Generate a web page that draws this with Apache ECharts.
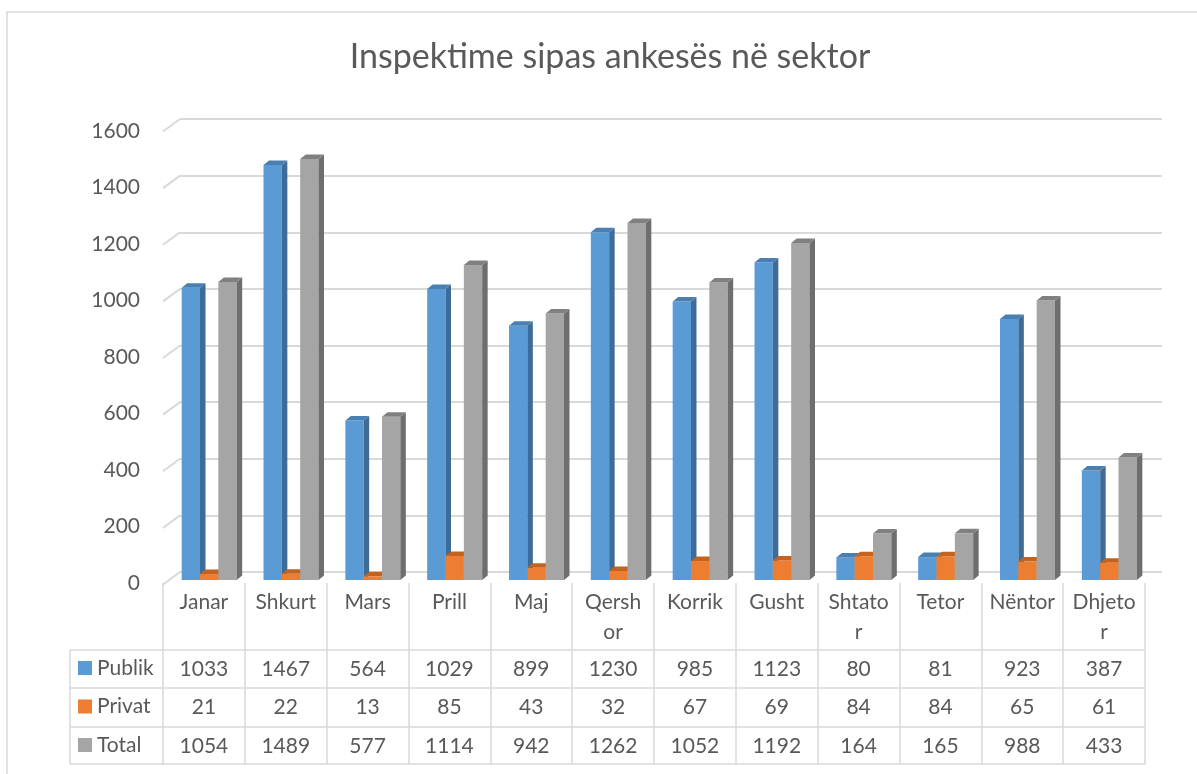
<!DOCTYPE html>
<html>
<head>
<meta charset="utf-8">
<script src="https://cdn.jsdelivr.net/npm/echarts@6/dist/echarts.min.js"></script>
<style>
html,body{margin:0;padding:0;background:#fff;}
#chart{width:1197px;height:774px;}
</style>
</head>
<body>
<div id="chart"></div>
<script>
// ---- data ----
const categories = ['Janar','Shkurt','Mars','Prill','Maj','Qershor','Korrik','Gusht','Shtator','Tetor','Nëntor','Dhjetor'];
const publik = [1033,1467,564,1029,899,1230,985,1123,80,81,923,387];
const privat = [21,22,13,85,43,32,67,69,84,84,65,61];
const total  = [1054,1489,577,1114,942,1262,1052,1192,164,165,988,433];
const seriesNames = ['Publik','Privat','Total'];
const yTicks = [0,200,400,600,800,1000,1200,1400,1600];
const titleText = 'Inspektime sipas ankesës në sektor';
// how the table header wraps long month names
const headerWrap = {'Qershor':'Qersh\nor','Shtator':'Shtato\nr','Dhjetor':'Dhjeto\nr'};

// ---- styles / layout ----
const FONT = 'Lato';
const TXT = '#595959';
const LINE = '#D9D9D9';
const palette = [
  {front:'#5B9BD5', side:'#3E6C97', top:'#4A7FB2'},
  {front:'#ED7D31', side:'#B0581D', top:'#C4631F'},
  {front:'#A5A5A5', side:'#6E6E6E', top:'#808080'}
];
const DEPTH = {dx:17, dy:12.5};   // back wall vs front plane
const BAR3D = {dx:5.5, dy:4.5};   // bar thickness
const frontGrid = {left:163, top:131, width:982, height:452};
const barGrid   = {left:167.6, top:127.5, width:982, height:452.5};
const backGrid  = {left:180, top:119, width:982, height:453};
const rowTops = [650, 688, 727, 764];  // table horizontal rules
const frontBottom = frontGrid.top + frontGrid.height;

const chart = echarts.init(document.getElementById('chart'));

function barRender(k){
  const c = palette[k];
  return function(params, api){
    const idx = api.value(0), v = api.value(1);
    const base = api.coord([idx, 0]);
    const topP = api.coord([idx, v]);
    const bw = api.size([1, 0])[0];
    const w = bw * 0.224;
    const x0 = base[0] - bw/2 + bw*0.172 + k*w;
    const x1 = x0 + w;
    const yb = base[1], yt = topP[1];
    const dx = BAR3D.dx, dy = BAR3D.dy;
    return {type:'group', children:[
      {type:'rect', shape:{x:x0, y:yt, width:w, height:yb-yt}, style:{fill:c.front}},
      {type:'polygon', shape:{points:[[x1,yt],[x1+dx,yt-dy],[x1+dx,yb-dy],[x1,yb]]}, style:{fill:c.side}},
      {type:'polygon', shape:{points:[[x0,yt],[x0+dx,yt-dy],[x1+dx,yt-dy],[x1,yt]]}, style:{fill:c.top}}
    ]};
  };
}

const valueSeries = [publik, privat, total];

const rowAxis = (vals, offset) => ({
  type:'category', gridIndex:1, data: vals.map(String), position:'bottom', offset: offset,
  axisLine:{show:true, lineStyle:{color:LINE, width:1.5}},
  axisTick:{show:false},
  axisLabel:{interval:0, margin:19, verticalAlign:'middle', fontFamily:FONT, fontSize:21, color:TXT},
  splitLine:{show:false}
});

const option = {
  backgroundColor:'#ffffff',
  animation:false,
  title:{
    text:titleText, left:605, top:35, textAlign:'center',
    textStyle:{fontFamily:FONT, fontSize:34, fontWeight:'normal', color:TXT}
  },
  legend:{
    orient:'vertical', left:78, top:656, padding:0, itemWidth:14, itemHeight:14, itemGap:14.5,
    icon:'rect', selectedMode:false, height:140,
    data: seriesNames,
    textStyle:{fontFamily:FONT, fontSize:21, color:TXT, lineHeight:24, height:24}
  },
  grid:[
    Object.assign({containLabel:false}, barGrid),
    Object.assign({containLabel:false}, frontGrid),
    Object.assign({containLabel:false}, backGrid)
  ],
  xAxis:[
    {type:'category', gridIndex:0, data:categories, show:false},
    {type:'category', gridIndex:1, data:categories, position:'bottom',
      axisLine:{show:false},
      axisTick:{show:true, interval:0, length: rowTops[3]-frontBottom, lineStyle:{color:LINE, width:1.5}},
      axisLabel:{interval:0, margin:4, verticalAlign:'top', lineHeight:30, fontFamily:FONT, fontSize:21, color:TXT,
        formatter: v => headerWrap[v] || v},
      splitLine:{show:false}},
    rowAxis(publik, rowTops[0]-frontBottom),
    rowAxis(privat, rowTops[1]-frontBottom),
    rowAxis(total,  rowTops[2]-frontBottom),
    {type:'category', gridIndex:1, data:categories, position:'bottom', offset: rowTops[3]-frontBottom,
      axisLine:{show:true, lineStyle:{color:LINE, width:1.5}}, axisTick:{show:false}, axisLabel:{show:false}},
    {type:'value', gridIndex:2, min:0, max:1, show:false}
  ],
  yAxis:[
    {type:'value', gridIndex:0, min:0, max:1600, interval:200, show:false},
    {type:'value', gridIndex:1, min:0, max:1600, interval:200,
      axisLine:{show:false}, axisTick:{show:false}, splitLine:{show:false},
      axisLabel:{margin:23, fontFamily:FONT, fontSize:21, color:TXT, formatter: v => String(v)}},
    {type:'value', gridIndex:2, min:0, max:1600, interval:200,
      axisLine:{show:false}, axisTick:{show:false}, axisLabel:{show:false},
      splitLine:{show:true, lineStyle:{color:LINE, width:2}}}
  ],
  graphic:[
    {type:'rect', shape:{x:7, y:12, width:1400, height:1000}, style:{fill:null, stroke:LINE, lineWidth:1.5}, silent:true, z:-1},
    // legend column of the data table
    ...rowTops.map(y => ({type:'line', shape:{x1:70, y1:y, x2:frontGrid.left, y2:y}, style:{stroke:LINE, lineWidth:1.5}, silent:true})),
    {type:'line', shape:{x1:70, y1:rowTops[0], x2:70, y2:rowTops[3]}, style:{stroke:LINE, lineWidth:1.5}, silent:true}
  ],
  series:[
    {type:'custom', name:'_walls', xAxisIndex:6, yAxisIndex:2, silent:true,
      data: yTicks.map(t => [0, t]),
      renderItem:function(params, api){
        const p = api.coord([api.value(0), api.value(1)]);
        return {type:'line', shape:{x1:p[0], y1:p[1], x2:p[0]-DEPTH.dx, y2:p[1]+DEPTH.dy},
          style:{stroke:LINE, lineWidth:2}};
      }},
    ...valueSeries.map((vals, k) => ({
      type:'custom', name:seriesNames[k], xAxisIndex:0, yAxisIndex:0,
      itemStyle:{color:palette[k].front},
      encode:{x:0, y:1},
      data: vals.map((v, i) => [i, v]),
      renderItem: barRender(k)
    }))
  ]
};
chart.setOption(option);
</script>
</body>
</html>
